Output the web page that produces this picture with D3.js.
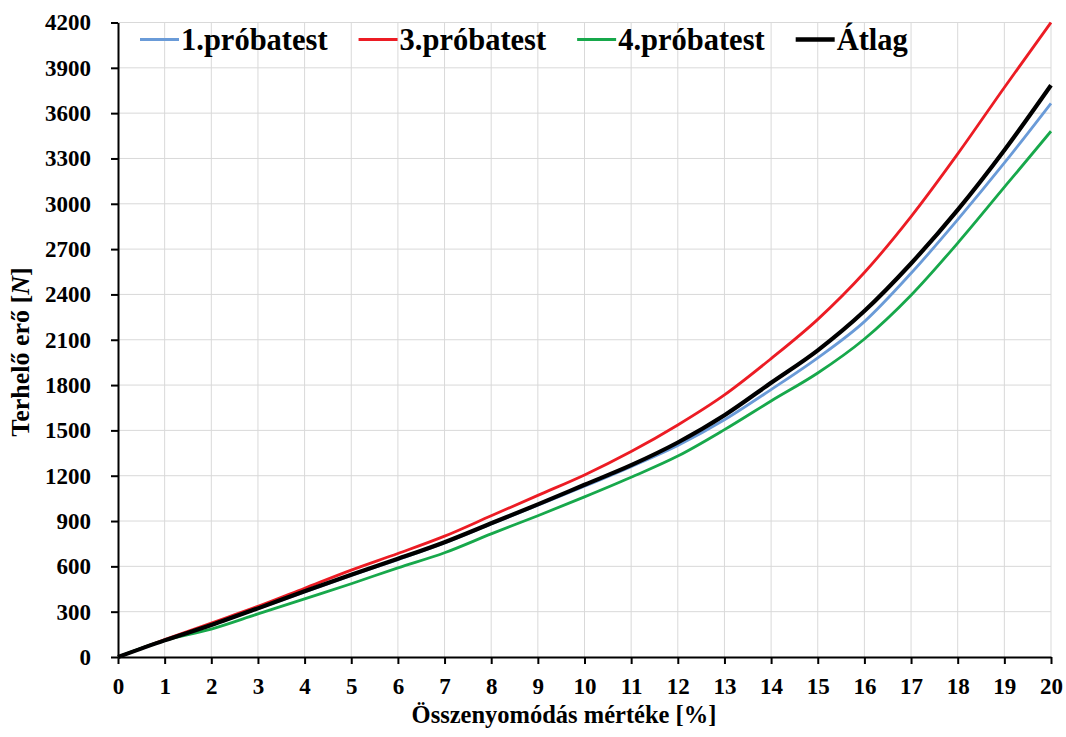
<!DOCTYPE html>
<html>
<head>
<meta charset="utf-8">
<script src="https://cdn.jsdelivr.net/npm/d3@7"></script>
<style>
  body { margin: 0; background: #fff; }
</style>
</head>
<body>
<div id="chart"></div>
<script>
// compression [%]
let strain = [0, 1, 2, 3, 4, 5, 6, 7, 8, 9, 10, 11, 12, 13, 14, 15, 16, 17, 18, 19, 20];

// force [N]
let sample1 = [0, 110, 210, 320, 430, 540, 645, 755, 880, 1005, 1130, 1260, 1400, 1570, 1770, 1980, 2220, 2540, 2895, 3270, 3665];
let sample3 = [0, 115, 225, 335, 455, 575, 685, 800, 935, 1070, 1205, 1360, 1536, 1735, 1975, 2235, 2545, 2915, 3330, 3770, 4200];
let sample4 = [0, 110, 185, 285, 385, 485, 590, 690, 815, 935, 1060, 1190, 1330, 1505, 1695, 1880, 2105, 2395, 2740, 3110, 3480];
let average = [0, 110, 212, 322, 435, 545, 650, 760, 885, 1010, 1140, 1270, 1420, 1600, 1815, 2030, 2290, 2605, 2960, 3355, 3785];

let seriesNames = ["1.próbatest", "3.próbatest", "4.próbatest", "Átlag"];
let seriesColors = ["#6a9bd8", "#ec1c24", "#17a84b", "#000000"];
let seriesWidths = [2.8, 2.8, 2.8, 4.2];

let xTicks = d3.range(0, 21, 1);
let yTicks = d3.range(0, 4201, 300);

let series = [sample1, sample3, sample4, average];

var margin = { top: 22.5, right: 15, bottom: 80, left: 118 };
let width = 1066 - margin.left - margin.right;
let height = 737 - margin.top - margin.bottom;
let serif = "'Liberation Serif', 'Times New Roman', serif";

var svg = d3.select("#chart")
    .append("svg")
    .attr("width", 1066)
    .attr("height", 737)
    .append("g")
    .attr("transform", "translate(" + margin.left + "," + margin.top + ")");

var x = d3.scaleLinear().domain([0, 20]).range([0, width]);
var y = d3.scaleLinear().domain([0, 4200]).range([height, 0]);

// grid
svg.append("g")
    .selectAll("line")
    .data(xTicks.slice(1))
    .enter()
    .append("line")
    .attr("x1", d => x(d)).attr("x2", d => x(d))
    .attr("y1", 0).attr("y2", height)
    .attr("stroke", "#d9d9d9").attr("stroke-width", 1);

svg.append("g")
    .selectAll("line")
    .data(yTicks.slice(1))
    .enter()
    .append("line")
    .attr("x1", 0).attr("x2", width)
    .attr("y1", d => y(d)).attr("y2", d => y(d))
    .attr("stroke", "#d9d9d9").attr("stroke-width", 1);

// axes
var xAxis = svg.append("g")
    .attr("transform", "translate(0," + height + ")")
    .call(d3.axisBottom(x).tickValues(xTicks).tickFormat(d3.format("d")).tickSize(7).tickPadding(14).tickSizeOuter(0));

var yAxis = svg.append("g")
    .call(d3.axisLeft(y).tickValues(yTicks).tickFormat(d3.format("d")).tickSize(7).tickPadding(20).tickSizeOuter(0));

[xAxis, yAxis].forEach(function (a) {
    a.attr("font-family", serif).attr("font-size", 23);
    a.select(".domain").attr("stroke", "#000").attr("stroke-width", 2);
    a.selectAll(".tick line").attr("stroke", "#000").attr("stroke-width", 2);
    a.selectAll(".tick text")
        .attr("fill", "#000")
        .attr("font-weight", "bold");
});

// lines
var line = d3.line()
    .x((d, i) => x(strain[i]))
    .y(d => y(d))
    .curve(d3.curveMonotoneX);

svg.selectAll("path.series")
    .data(series)
    .enter()
    .append("path")
    .attr("class", "series")
    .attr("d", d => line(d))
    .attr("fill", "none")
    .attr("stroke", (d, i) => seriesColors[i])
    .attr("stroke-width", (d, i) => seriesWidths[i])
    .attr("stroke-linejoin", "round");

// legend
var legend = svg.append("g").attr("transform", "translate(0," + (39.5 - margin.top) + ")");
let lx = 140 - margin.left;
seriesNames.forEach(function (name, i) {
    legend.append("line")
        .attr("x1", lx).attr("x2", lx + 39)
        .attr("y1", 0).attr("y2", 0)
        .attr("stroke", seriesColors[i])
        .attr("stroke-width", i == 3 ? 4.5 : 3);
    var t = legend.append("text")
        .attr("x", lx + 41)
        .attr("y", 10)
        .attr("fill", "#000")
        .attr("font-family", serif)
        .attr("font-weight", "bold")
        .attr("font-size", 30.5)
        .text(name);
    lx = lx + 41 + t.node().getComputedTextLength() + 31;
});

// axis titles
svg.append("text")
    .attr("x", 446)
    .attr("y", 723 - margin.top)
    .attr("text-anchor", "middle")
    .attr("fill", "#000")
    .attr("font-family", serif)
    .attr("font-weight", "bold")
    .attr("font-size", 24.5)
    .text("Összenyomódás mértéke [%]");

var yt = svg.append("text")
    .attr("transform", "translate(" + (29 - margin.left) + "," + (352 - margin.top) + ") rotate(-90)")
    .attr("text-anchor", "middle")
    .attr("fill", "#000")
    .attr("font-family", serif)
    .attr("font-weight", "bold")
    .attr("font-size", 26);
yt.append("tspan").text("Terhelő erő [");
yt.append("tspan").attr("font-style", "italic").text("N");
yt.append("tspan").text("]");
</script>
</body>
</html>
